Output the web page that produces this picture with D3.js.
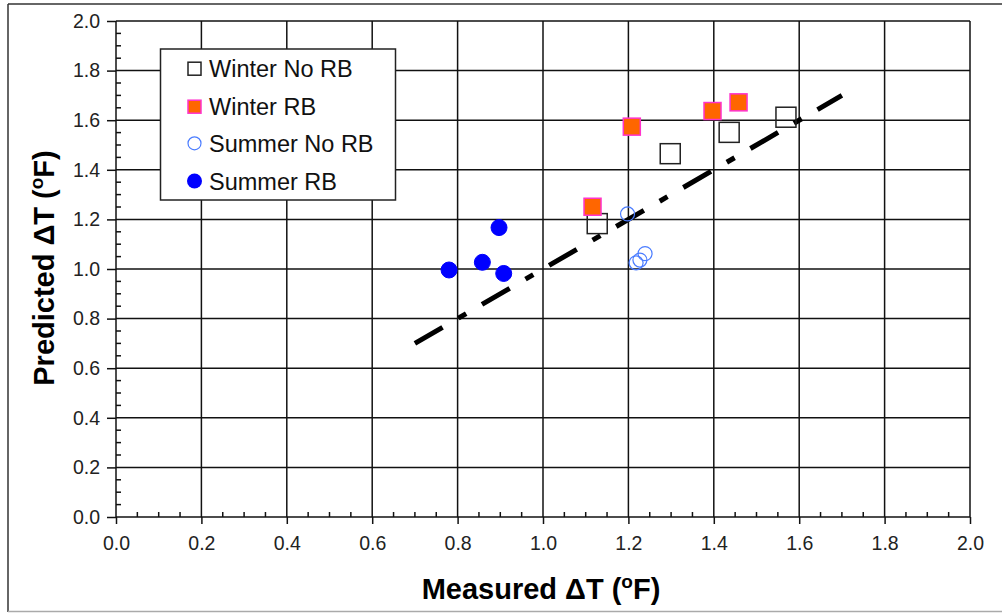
<!DOCTYPE html>
<html><head><meta charset="utf-8">
<script src="https://cdn.jsdelivr.net/npm/d3@7"></script>
<style>html,body{margin:0;padding:0;background:#fff;}svg{display:block;font-family:"Liberation Sans",Arial,sans-serif;}</style>
</head><body>
<svg id="c" width="1002" height="613"></svg>
<script>
const xTicks = [0.0,0.2,0.4,0.6,0.8,1.0,1.2,1.4,1.6,1.8,2.0];
const yTicks = [0.0,0.2,0.4,0.6,0.8,1.0,1.2,1.4,1.6,1.8,2.0];
const winterNoRB = [[1.127,1.183],[1.298,1.465],[1.436,1.551],[1.569,1.612]];
const winterRB = [[1.116,1.251],[1.208,1.574],[1.397,1.637],[1.458,1.672]];
const summerNoRB = [[1.198,1.222],[1.239,1.062],[1.227,1.036],[1.218,1.025]];
const summerRB = [[0.780,0.996],[0.858,1.027],[0.897,1.167],[0.908,0.982]];
const fitLine = [[0.7,0.7],[1.7,1.7]];
const legendLabels = ["Winter No RB","Winter RB","Summer No RB","Summer RB"];

const svg = d3.select("#c");
const x = d3.scaleLinear().domain([0,2]).range([116,970]);
const y = d3.scaleLinear().domain([0,2]).range([517,21]);

// outer frame
svg.append("line").attr("x1",8).attr("x2",1002).attr("y1",4).attr("y2",4).attr("stroke","#333").attr("stroke-width",1.5);
svg.append("line").attr("x1",8).attr("x2",8).attr("y1",4).attr("y2",612).attr("stroke","#333").attr("stroke-width",1.5);
svg.append("line").attr("x1",8).attr("x2",1002).attr("y1",611.5).attr("y2",611.5).attr("stroke","#aaa").attr("stroke-width",1.5);

// grid
const g = svg.append("g");
g.selectAll(".vg").data(xTicks).join("line").attr("x1",d=>x(d)).attr("x2",d=>x(d)).attr("y1",y(2)).attr("y2",y(0)).attr("stroke","#111").attr("stroke-width",1.5);
g.selectAll(".hg").data(yTicks).join("line").attr("y1",d=>y(d)).attr("y2",d=>y(d)).attr("x1",x(0)).attr("x2",x(2)).attr("stroke","#111").attr("stroke-width",1.5);

// axes
const xAxis = d3.axisBottom(x).tickValues(xTicks).tickFormat(d3.format(".1f")).tickSize(7).tickPadding(12);
const yAxis = d3.axisLeft(y).tickValues(yTicks).tickFormat(d3.format(".1f")).tickSize(9).tickPadding(7);
const minor = d3.range(0,2.0001,0.05).filter(v=>Math.abs(v*5-Math.round(v*5))>1e-6);
const gx = svg.append("g").attr("transform",`translate(0,${y(0)})`).call(xAxis);
const gy = svg.append("g").attr("transform",`translate(${x(0)},0)`).call(yAxis);
[gx,gy].forEach(a=>{a.select(".domain").remove();a.selectAll("line").attr("stroke","#111").attr("stroke-width",1.5);a.selectAll("text").attr("font-size",19.5).attr("fill","#222").attr("font-family","Liberation Sans, Arial, sans-serif");});
svg.append("g").selectAll("line").data(minor).join("line").attr("x1",d=>x(d)).attr("x2",d=>x(d)).attr("y1",y(0)).attr("y2",y(0)-5).attr("stroke","#111").attr("stroke-width",1.5);
svg.append("g").selectAll("line").data(minor).join("line").attr("y1",d=>y(d)).attr("y2",d=>y(d)).attr("x1",x(0)).attr("x2",x(0)+5).attr("stroke","#111").attr("stroke-width",1.5);

// fit line
svg.append("path").datum(fitLine).attr("d",d3.line().x(d=>x(d[0])).y(d=>y(d[1])))
  .attr("stroke","#000").attr("stroke-width",5).attr("fill","none").attr("stroke-dasharray","32,18.3,9,18.3");

// markers
const sq = 20;
svg.append("g").selectAll("rect").data(winterNoRB).join("rect")
  .attr("x",d=>x(d[0])-sq/2).attr("y",d=>y(d[1])-sq/2).attr("width",sq).attr("height",sq)
  .attr("fill","none").attr("stroke","#222").attr("stroke-width",1.5);
svg.append("g").selectAll("circle").data(summerNoRB).join("circle")
  .attr("cx",d=>x(d[0])).attr("cy",d=>y(d[1])).attr("r",7)
  .attr("fill","none").attr("stroke","#4a7cff").attr("stroke-width",1.2);
svg.append("g").selectAll("rect").data(winterRB).join("rect")
  .attr("x",d=>x(d[0])-8.5).attr("y",d=>y(d[1])-8.5).attr("width",17).attr("height",17)
  .attr("fill","#ff6600").attr("stroke","#ff33cc").attr("stroke-width",1.5);
svg.append("g").selectAll("circle").data(summerRB).join("circle")
  .attr("cx",d=>x(d[0])).attr("cy",d=>y(d[1])).attr("r",8)
  .attr("fill","#0000ff").attr("stroke","#0000ff").attr("stroke-width",1);

// legend
const lg = svg.append("g");
lg.append("rect").attr("x",160.5).attr("y",49).attr("width",235).attr("height",151).attr("fill","#fff").attr("stroke","#222").attr("stroke-width",1.5);
const rows = [68.7,106.7,143.3,181];
lg.append("rect").attr("x",188).attr("y",rows[0]-6.5).attr("width",13).attr("height",13).attr("fill","none").attr("stroke","#222").attr("stroke-width",1.5);
lg.append("rect").attr("x",188).attr("y",rows[1]-6.5).attr("width",13).attr("height",13).attr("fill","#ff6600").attr("stroke","#ff33cc").attr("stroke-width",1.5);
lg.append("circle").attr("cx",194.5).attr("cy",rows[2]).attr("r",6.5).attr("fill","none").attr("stroke","#4a7cff").attr("stroke-width",1.2);
lg.append("circle").attr("cx",194.5).attr("cy",rows[3]).attr("r",7.5).attr("fill","#0000ff");
lg.selectAll("text").data(legendLabels).join("text").attr("x",209).attr("y",(d,i)=>rows[i]+8.5)
  .attr("font-size",23.5).attr("fill","#111").text(d=>d);

// axis titles
const xt = svg.append("text").attr("x",541).attr("y",599).attr("text-anchor","middle").attr("font-size",29).attr("font-weight","bold").attr("fill","#000");
xt.append("tspan").text("Measured \u0394T (");
xt.append("tspan").attr("font-size",19).attr("dy",-11).text("o");
xt.append("tspan").attr("dy",11).text("F)");
const yt = svg.append("text").attr("transform","translate(54,268) rotate(-90)").attr("text-anchor","middle").attr("font-size",29).attr("font-weight","bold").attr("fill","#000");
yt.append("tspan").text("Predicted \u0394T (");
yt.append("tspan").attr("font-size",19).attr("dy",-11).text("o");
yt.append("tspan").attr("dy",11).text("F)");
</script>
</body></html>
